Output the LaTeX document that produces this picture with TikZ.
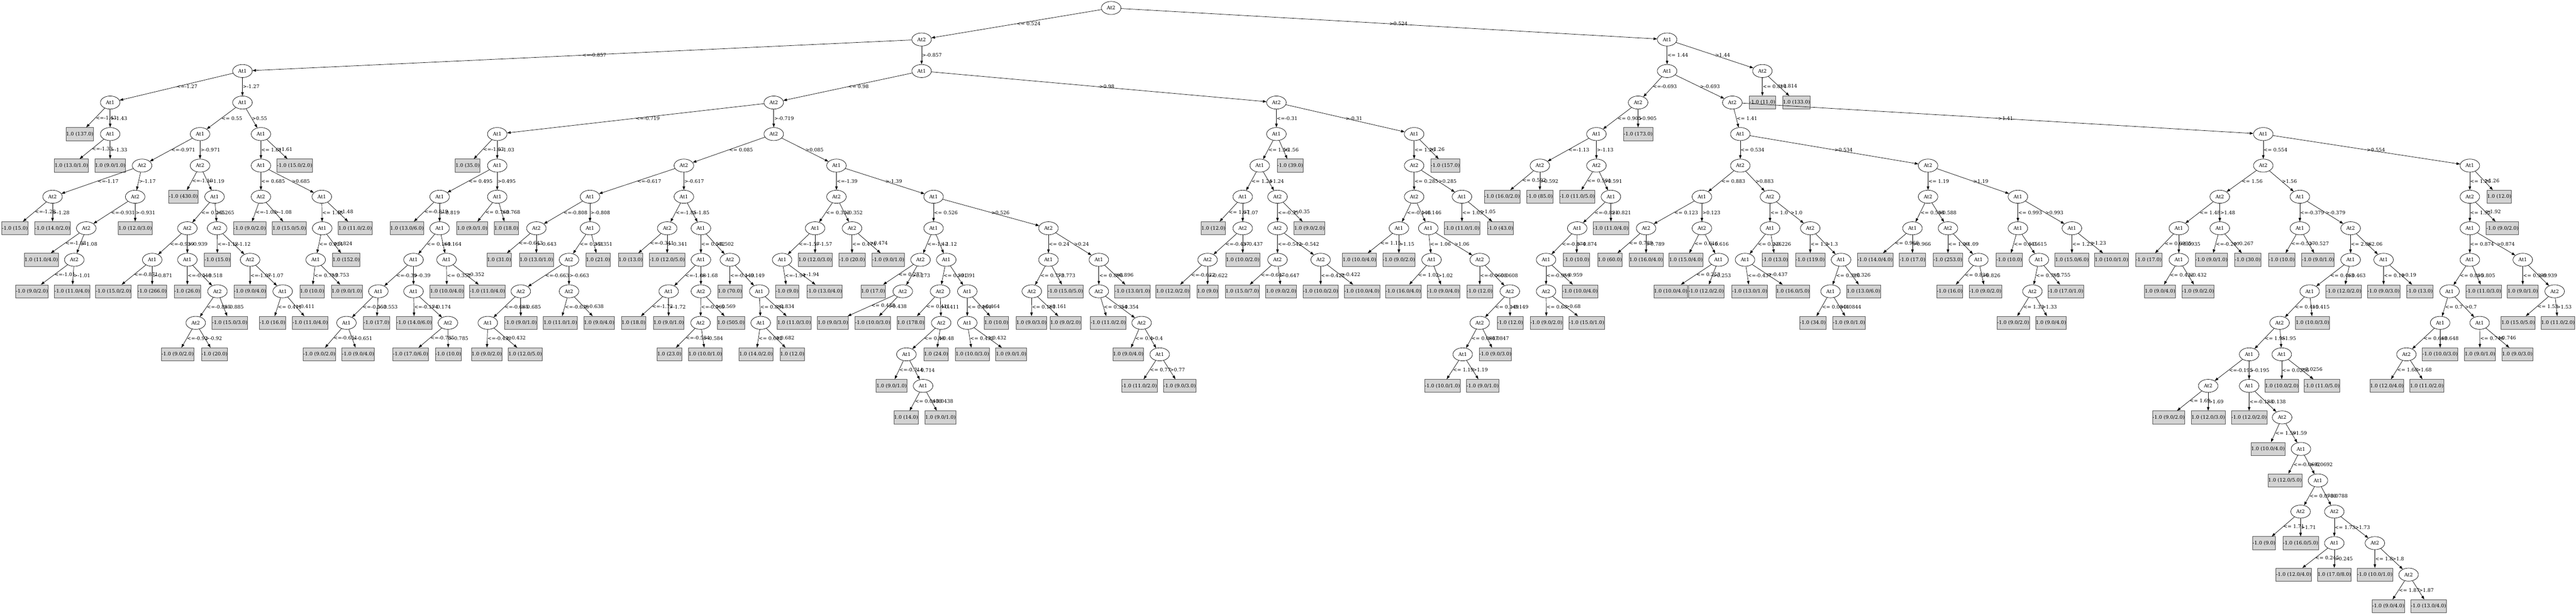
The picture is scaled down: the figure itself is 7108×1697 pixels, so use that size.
\documentclass[tikz,border=0pt]{standalone}
\usepackage{fontspec}
\setmainfont{DejaVu Serif}
\usetikzlibrary{shapes.geometric,arrows.meta}
\definecolor{leafgray}{RGB}{211,211,211}
\definecolor{leafline}{RGB}{80,80,80}

\begin{document}
\begin{tikzpicture}[x=1pt,y=-1pt,line width=1pt,font=\fontsize{13.5}{16}\selectfont]
\useasboundingbox (0,0) rectangle (7108,1697);

% split nodes
\begin{scope}[every node/.style={ellipse,draw,minimum width=54pt,minimum height=36pt,inner sep=0pt}]
\node (t0) at (3066,22) {At2};
\node (t1) at (2543,109) {At2};
\node (t2) at (4600,109) {At1};
\node (t3) at (669,196) {At1};
\node (t4) at (2543,196) {At1};
\node (t5) at (304,283) {At1};
\node (t6) at (669,283) {At1};
\node (t7) at (304,370) {At1};
\node (t8) at (552,370) {At1};
\node (t9) at (720,370) {At1};
\node (t10) at (392,457) {At2};
\node (t11) at (552,457) {At2};
\node (t12) at (145,543) {At2};
\node (t13) at (373,543) {At2};
\node (t14) at (238,630) {At2};
\node (t15) at (205,717) {At2};
\node (t16) at (592,543) {At1};
\node (t17) at (517,630) {At2};
\node (t18) at (599,630) {At2};
\node (t19) at (420,717) {At1};
\node (t20) at (517,717) {At1};
\node (t21) at (600,804) {At2};
\node (t22) at (540,891) {At2};
\node (t23) at (690,717) {At2};
\node (t24) at (780,804) {At1};
\node (t25) at (720,457) {At1};
\node (t26) at (720,543) {At2};
\node (t27) at (888,543) {At1};
\node (t28) at (889,630) {At1};
\node (t29) at (871,717) {At1};
\node (t30) at (2135,283) {At2};
\node (t31) at (3522,283) {At2};
\node (t32) at (1372,370) {At1};
\node (t33) at (2135,370) {At2};
\node (t34) at (1372,457) {At1};
\node (t35) at (1213,543) {At1};
\node (t36) at (1372,543) {At1};
\node (t37) at (1213,630) {At1};
\node (t38) at (1141,717) {At1};
\node (t39) at (1232,717) {At1};
\node (t40) at (1044,804) {At1};
\node (t41) at (1141,804) {At1};
\node (t42) at (956,891) {At1};
\node (t43) at (1236,891) {At2};
\node (t44) at (1887,457) {At2};
\node (t45) at (2308,457) {At1};
\node (t46) at (1628,543) {At1};
\node (t47) at (1887,543) {At1};
\node (t48) at (1480,630) {At2};
\node (t49) at (1628,630) {At1};
\node (t50) at (1570,717) {At2};
\node (t51) at (1437,804) {At2};
\node (t52) at (1570,804) {At2};
\node (t53) at (1346,891) {At1};
\node (t54) at (1841,630) {At2};
\node (t55) at (1934,630) {At1};
\node (t56) at (1934,717) {At1};
\node (t57) at (2014,717) {At2};
\node (t58) at (1845,804) {At1};
\node (t59) at (1934,804) {At2};
\node (t60) at (1933,891) {At2};
\node (t61) at (2095,804) {At1};
\node (t62) at (2099,891) {At1};
\node (t63) at (2308,543) {At2};
\node (t64) at (2576,543) {At1};
\node (t65) at (2249,630) {At1};
\node (t66) at (2351,630) {At2};
\node (t67) at (2158,717) {At1};
\node (t68) at (2576,630) {At1};
\node (t69) at (2893,630) {At2};
\node (t70) at (2540,717) {At2};
\node (t71) at (2611,717) {At1};
\node (t72) at (2491,804) {At2};
\node (t73) at (2594,804) {At2};
\node (t74) at (2669,804) {At1};
\node (t75) at (2597,891) {At2};
\node (t76) at (2501,978) {At1};
\node (t77) at (2547,1065) {At1};
\node (t78) at (2669,891) {At1};
\node (t79) at (2893,717) {At1};
\node (t80) at (3032,717) {At1};
\node (t81) at (2847,804) {At2};
\node (t82) at (3032,804) {At2};
\node (t83) at (3150,891) {At2};
\node (t84) at (3200,978) {At1};
\node (t85) at (3522,370) {At1};
\node (t86) at (3902,370) {At1};
\node (t87) at (3476,457) {At1};
\node (t88) at (3429,543) {At1};
\node (t89) at (3525,543) {At2};
\node (t90) at (3429,630) {At2};
\node (t91) at (3332,717) {At2};
\node (t92) at (3525,630) {At2};
\node (t93) at (3525,717) {At2};
\node (t94) at (3644,717) {At2};
\node (t95) at (3902,457) {At2};
\node (t96) at (3902,543) {At2};
\node (t97) at (4034,543) {At1};
\node (t98) at (3860,630) {At1};
\node (t99) at (3941,630) {At1};
\node (t100) at (3950,717) {At1};
\node (t101) at (4083,717) {At2};
\node (t102) at (4166,804) {At2};
\node (t103) at (4083,891) {At2};
\node (t104) at (4036,978) {At1};
\node (t105) at (4600,196) {At1};
\node (t106) at (4863,196) {At2};
\node (t107) at (4520,283) {At2};
\node (t108) at (4780,283) {At2};
\node (t109) at (4405,370) {At1};
\node (t110) at (4249,457) {At2};
\node (t111) at (4405,457) {At2};
\node (t112) at (4445,543) {At1};
\node (t113) at (4352,630) {At1};
\node (t114) at (4266,717) {At1};
\node (t115) at (4266,804) {At2};
\node (t116) at (4802,370) {At1};
\node (t117) at (6245,370) {At1};
\node (t118) at (4802,457) {At2};
\node (t119) at (5320,457) {At2};
\node (t120) at (4696,543) {At1};
\node (t121) at (4884,543) {At2};
\node (t122) at (4542,630) {At2};
\node (t123) at (4696,630) {At2};
\node (t124) at (4742,717) {At1};
\node (t125) at (4884,630) {At1};
\node (t126) at (4995,630) {At2};
\node (t127) at (4815,717) {At1};
\node (t128) at (5080,717) {At1};
\node (t129) at (5051,804) {At1};
\node (t130) at (5320,543) {At2};
\node (t131) at (5568,543) {At1};
\node (t132) at (5277,630) {At1};
\node (t133) at (5375,630) {At2};
\node (t134) at (5459,717) {At1};
\node (t135) at (5568,630) {At1};
\node (t136) at (5717,630) {At1};
\node (t137) at (5626,717) {At1};
\node (t138) at (5608,804) {At2};
\node (t139) at (6245,457) {At2};
\node (t140) at (6815,457) {At1};
\node (t141) at (6125,543) {At2};
\node (t142) at (6346,543) {At1};
\node (t143) at (6012,630) {At1};
\node (t144) at (6125,630) {At1};
\node (t145) at (6012,717) {At1};
\node (t146) at (6346,630) {At1};
\node (t147) at (6486,630) {At2};
\node (t148) at (6486,717) {At1};
\node (t149) at (6577,717) {At1};
\node (t150) at (6373,804) {At1};
\node (t151) at (6290,891) {At2};
\node (t152) at (6206,978) {At1};
\node (t153) at (6296,978) {At1};
\node (t154) at (6093,1065) {At2};
\node (t155) at (6206,1065) {At1};
\node (t156) at (6297,1152) {At2};
\node (t157) at (6349,1239) {At1};
\node (t158) at (6396,1326) {At1};
\node (t159) at (6348,1412) {At2};
\node (t160) at (6441,1412) {At2};
\node (t161) at (6441,1499) {At1};
\node (t162) at (6553,1499) {At2};
\node (t163) at (6646,1586) {At2};
\node (t164) at (6815,543) {At2};
\node (t165) at (6815,630) {At1};
\node (t166) at (6815,717) {At1};
\node (t167) at (6961,717) {At1};
\node (t168) at (6759,804) {At1};
\node (t169) at (6733,891) {At1};
\node (t170) at (6842,891) {At1};
\node (t171) at (6640,978) {At2};
\node (t172) at (7049,804) {At2};
\end{scope}

% leaves
\begin{scope}[every node/.style={rectangle,draw=leafline,fill=leafgray,minimum height=36pt,inner xsep=0.5pt}]
\node (l1) at (220,370) {1.0 (137.0)};
\node (l2) at (197,457) {1.0 (13.0/1.0)};
\node (l3) at (304,457) {1.0 (9.0/1.0)};
\node (l4) at (41,630) {-1.0 (15.0)};
\node (l5) at (145,630) {-1.0 (14.0/2.0)};
\node (l6) at (373,630) {1.0 (12.0/3.0)};
\node (l7) at (114,717) {1.0 (11.0/4.0)};
\node (l8) at (88,804) {-1.0 (9.0/2.0)};
\node (l9) at (199,804) {-1.0 (11.0/4.0)};
\node (l10) at (506,543) {-1.0 (430.0)};
\node (l11) at (313,804) {-1.0 (15.0/2.0)};
\node (l12) at (420,804) {-1.0 (266.0)};
\node (l13) at (517,804) {-1.0 (26.0)};
\node (l14) at (634,891) {-1.0 (15.0/3.0)};
\node (l15) at (490,978) {-1.0 (9.0/2.0)};
\node (l16) at (592,978) {-1.0 (20.0)};
\node (l17) at (600,717) {-1.0 (15.0)};
\node (l18) at (690,804) {-1.0 (9.0/4.0)};
\node (l19) at (752,891) {-1.0 (16.0)};
\node (l20) at (856,891) {-1.0 (11.0/4.0)};
\node (l21) at (813,457) {-1.0 (15.0/2.0)};
\node (l22) at (689,630) {-1.0 (9.0/2.0)};
\node (l23) at (798,630) {1.0 (15.0/5.0)};
\node (l24) at (980,630) {1.0 (11.0/2.0)};
\node (l25) at (955,717) {1.0 (152.0)};
\node (l26) at (861,804) {1.0 (10.0)};
\node (l27) at (957,804) {1.0 (9.0/1.0)};
\node (l28) at (1290,457) {1.0 (35.0)};
\node (l29) at (1123,630) {1.0 (13.0/6.0)};
\node (l30) at (1039,891) {-1.0 (17.0)};
\node (l31) at (881,978) {-1.0 (9.0/2.0)};
\node (l32) at (988,978) {-1.0 (9.0/4.0)};
\node (l33) at (1143,891) {-1.0 (14.0/6.0)};
\node (l34) at (1133,978) {-1.0 (17.0/6.0)};
\node (l35) at (1237,978) {-1.0 (10.0)};
\node (l36) at (1233,804) {1.0 (10.0/4.0)};
\node (l37) at (1345,804) {-1.0 (11.0/4.0)};
\node (l38) at (1303,630) {1.0 (9.0/1.0)};
\node (l39) at (1397,630) {1.0 (18.0)};
\node (l40) at (1377,717) {1.0 (31.0)};
\node (l41) at (1480,717) {1.0 (13.0/1.0)};
\node (l42) at (1437,891) {-1.0 (9.0/1.0)};
\node (l43) at (1343,978) {1.0 (9.0/2.0)};
\node (l44) at (1449,978) {1.0 (12.0/5.0)};
\node (l45) at (1546,891) {1.0 (11.0/1.0)};
\node (l46) at (1653,891) {1.0 (9.0/4.0)};
\node (l47) at (1650,717) {1.0 (21.0)};
\node (l48) at (1740,717) {1.0 (13.0)};
\node (l49) at (1841,717) {-1.0 (12.0/5.0)};
\node (l50) at (1748,891) {1.0 (18.0)};
\node (l51) at (1845,891) {1.0 (9.0/1.0)};
\node (l52) at (1847,978) {1.0 (23.0)};
\node (l53) at (1946,978) {1.0 (10.0/1.0)};
\node (l54) at (2017,891) {1.0 (505.0)};
\node (l55) at (2014,804) {1.0 (70.0)};
\node (l56) at (2086,978) {1.0 (14.0/2.0)};
\node (l57) at (2186,978) {1.0 (12.0)};
\node (l58) at (2191,891) {1.0 (11.0/3.0)};
\node (l59) at (2249,717) {1.0 (12.0/3.0)};
\node (l60) at (2172,804) {-1.0 (9.0)};
\node (l61) at (2275,804) {-1.0 (13.0/4.0)};
\node (l62) at (2351,717) {-1.0 (20.0)};
\node (l63) at (2451,717) {-1.0 (9.0/1.0)};
\node (l64) at (2409,804) {1.0 (17.0)};
\node (l65) at (2298,891) {1.0 (9.0/3.0)};
\node (l66) at (2408,891) {-1.0 (10.0/3.0)};
\node (l67) at (2513,891) {1.0 (178.0)};
\node (l68) at (2583,978) {1.0 (24.0)};
\node (l69) at (2460,1065) {1.0 (9.0/1.0)};
\node (l70) at (2500,1152) {1.0 (14.0)};
\node (l71) at (2595,1152) {1.0 (9.0/1.0)};
\node (l72) at (2749,891) {1.0 (10.0)};
\node (l73) at (2683,978) {1.0 (10.0/3.0)};
\node (l74) at (2790,978) {1.0 (9.0/1.0)};
\node (l75) at (2940,804) {-1.0 (15.0/5.0)};
\node (l76) at (2846,891) {1.0 (9.0/3.0)};
\node (l77) at (2940,891) {1.0 (9.0/2.0)};
\node (l78) at (3125,804) {-1.0 (13.0/1.0)};
\node (l79) at (3058,891) {-1.0 (11.0/2.0)};
\node (l80) at (3113,978) {1.0 (9.0/4.0)};
\node (l81) at (3144,1065) {-1.0 (11.0/2.0)};
\node (l82) at (3255,1065) {-1.0 (9.0/3.0)};
\node (l83) at (3560,457) {-1.0 (39.0)};
\node (l84) at (3348,630) {1.0 (12.0)};
\node (l85) at (3429,717) {1.0 (10.0/2.0)};
\node (l86) at (3236,804) {1.0 (12.0/2.0)};
\node (l87) at (3332,804) {1.0 (9.0)};
\node (l88) at (3613,630) {1.0 (9.0/2.0)};
\node (l89) at (3428,804) {1.0 (15.0/7.0)};
\node (l90) at (3535,804) {1.0 (9.0/2.0)};
\node (l91) at (3644,804) {-1.0 (10.0/2.0)};
\node (l92) at (3758,804) {-1.0 (10.0/4.0)};
\node (l93) at (3988,457) {-1.0 (157.0)};
\node (l94) at (3751,717) {1.0 (10.0/4.0)};
\node (l95) at (3860,717) {-1.0 (9.0/2.0)};
\node (l96) at (3872,804) {-1.0 (16.0/4.0)};
\node (l97) at (3983,804) {-1.0 (9.0/4.0)};
\node (l98) at (4083,804) {-1.0 (12.0)};
\node (l99) at (4167,891) {-1.0 (12.0)};
\node (l100) at (4126,978) {-1.0 (9.0/3.0)};
\node (l101) at (3980,1065) {-1.0 (10.0/1.0)};
\node (l102) at (4091,1065) {-1.0 (9.0/1.0)};
\node (l103) at (4034,630) {-1.0 (11.0/1.0)};
\node (l104) at (4140,630) {-1.0 (43.0)};
\node (l105) at (4863,283) {-1.0 (11.0)};
\node (l106) at (4957,283) {1.0 (133.0)};
\node (l107) at (4520,370) {-1.0 (173.0)};
\node (l108) at (4145,543) {-1.0 (16.0/2.0)};
\node (l109) at (4249,543) {-1.0 (85.0)};
\node (l110) at (4352,543) {-1.0 (11.0/5.0)};
\node (l111) at (4445,630) {-1.0 (11.0/4.0)};
\node (l112) at (4350,717) {-1.0 (10.0)};
\node (l113) at (4360,804) {-1.0 (10.0/4.0)};
\node (l114) at (4267,891) {-1.0 (9.0/2.0)};
\node (l115) at (4378,891) {-1.0 (15.0/1.0)};
\node (l116) at (4442,717) {1.0 (60.0)};
\node (l117) at (4542,717) {1.0 (16.0/4.0)};
\node (l118) at (4652,717) {1.0 (15.0/4.0)};
\node (l119) at (4610,804) {1.0 (10.0/4.0)};
\node (l120) at (4708,804) {-1.0 (12.0/2.0)};
\node (l121) at (4898,717) {-1.0 (13.0)};
\node (l122) at (4828,804) {-1.0 (13.0/1.0)};
\node (l123) at (4947,804) {1.0 (16.0/5.0)};
\node (l124) at (4995,717) {-1.0 (119.0)};
\node (l125) at (5142,804) {1.0 (13.0/6.0)};
\node (l126) at (5002,891) {-1.0 (34.0)};
\node (l127) at (5102,891) {-1.0 (9.0/1.0)};
\node (l128) at (5174,717) {-1.0 (14.0/4.0)};
\node (l129) at (5277,717) {-1.0 (17.0)};
\node (l130) at (5375,717) {-1.0 (253.0)};
\node (l131) at (5380,804) {-1.0 (16.0)};
\node (l132) at (5478,804) {-1.0 (9.0/2.0)};
\node (l133) at (5544,717) {-1.0 (10.0)};
\node (l134) at (5700,804) {-1.0 (17.0/1.0)};
\node (l135) at (5555,891) {-1.0 (9.0/2.0)};
\node (l136) at (5659,891) {1.0 (9.0/4.0)};
\node (l137) at (5717,717) {1.0 (15.0/6.0)};
\node (l138) at (5826,717) {1.0 (10.0/1.0)};
\node (l139) at (5929,717) {-1.0 (17.0)};
\node (l140) at (5960,804) {1.0 (9.0/4.0)};
\node (l141) at (6065,804) {-1.0 (9.0/2.0)};
\node (l142) at (6102,717) {-1.0 (9.0/1.0)};
\node (l143) at (6202,717) {-1.0 (30.0)};
\node (l144) at (6296,717) {-1.0 (10.0)};
\node (l145) at (6396,717) {-1.0 (9.0/1.0)};
\node (l146) at (6467,804) {-1.0 (12.0/2.0)};
\node (l147) at (6577,804) {-1.0 (9.0/3.0)};
\node (l148) at (6677,804) {-1.0 (13.0)};
\node (l149) at (6381,891) {1.0 (10.0/3.0)};
\node (l150) at (5984,1152) {-1.0 (9.0/2.0)};
\node (l151) at (6093,1152) {1.0 (12.0/3.0)};
\node (l152) at (6206,1152) {-1.0 (12.0/2.0)};
\node (l153) at (6258,1239) {1.0 (10.0/4.0)};
\node (l154) at (6305,1326) {1.0 (12.0/5.0)};
\node (l155) at (6247,1499) {-1.0 (9.0)};
\node (l156) at (6348,1499) {-1.0 (16.0/5.0)};
\node (l157) at (6329,1586) {-1.0 (12.0/4.0)};
\node (l158) at (6441,1586) {1.0 (17.0/8.0)};
\node (l159) at (6553,1586) {-1.0 (10.0/1.0)};
\node (l160) at (6590,1673) {-1.0 (9.0/4.0)};
\node (l161) at (6701,1673) {-1.0 (13.0/4.0)};
\node (l162) at (6296,1065) {1.0 (10.0/2.0)};
\node (l163) at (6407,1065) {-1.0 (11.0/5.0)};
\node (l164) at (6896,543) {1.0 (12.0)};
\node (l165) at (6905,630) {-1.0 (9.0/2.0)};
\node (l166) at (6853,804) {-1.0 (11.0/3.0)};
\node (l167) at (6586,1065) {1.0 (12.0/4.0)};
\node (l168) at (6696,1065) {1.0 (11.0/2.0)};
\node (l169) at (6733,978) {-1.0 (10.0/3.0)};
\node (l170) at (6843,978) {1.0 (9.0/1.0)};
\node (l171) at (6946,978) {1.0 (9.0/3.0)};
\node (l172) at (6961,804) {1.0 (9.0/1.0)};
\node (l173) at (6948,891) {1.0 (15.0/5.0)};
\node (l174) at (7058,891) {1.0 (11.0/2.0)};
\end{scope}

% branches
\begin{scope}[every edge/.style={draw,-{Triangle[length=10pt,width=7pt]}},every node/.style={anchor=west,inner sep=0.5pt}]
\path (t0) edge node {<= 0.524} (t1);
\path (t0) edge node {>0.524} (t2);
\path (t1) edge node {<=-0.857} (t3);
\path (t1) edge node {>-0.857} (t4);
\path (t3) edge node {<=-1.27} (t5);
\path (t3) edge node {>-1.27} (t6);
\path (t5) edge node {<=-1.43} (l1);
\path (t5) edge node {>-1.43} (t7);
\path (t7) edge node {<=-1.33} (l2);
\path (t7) edge node {>-1.33} (l3);
\path (t6) edge node {<= 0.55} (t8);
\path (t6) edge node {>0.55} (t9);
\path (t8) edge node {<=-0.971} (t10);
\path (t8) edge node {>-0.971} (t11);
\path (t10) edge node {<=-1.17} (t12);
\path (t10) edge node {>-1.17} (t13);
\path (t12) edge node {<=-1.28} (l4);
\path (t12) edge node {>-1.28} (l5);
\path (t13) edge node {<=-0.931} (t14);
\path (t13) edge node {>-0.931} (l6);
\path (t14) edge node {<=-1.08} (l7);
\path (t14) edge node {>-1.08} (t15);
\path (t15) edge node {<=-1.01} (l8);
\path (t15) edge node {>-1.01} (l9);
\path (t11) edge node {<=-1.19} (l10);
\path (t11) edge node {>-1.19} (t16);
\path (t16) edge node {<= 0.265} (t17);
\path (t16) edge node {>0.265} (t18);
\path (t17) edge node {<=-0.939} (t19);
\path (t17) edge node {>-0.939} (t20);
\path (t19) edge node {<=-0.871} (l11);
\path (t19) edge node {>-0.871} (l12);
\path (t20) edge node {<=-0.518} (l13);
\path (t20) edge node {>-0.518} (t21);
\path (t21) edge node {<=-0.885} (t22);
\path (t21) edge node {>-0.885} (l14);
\path (t22) edge node {<=-0.92} (l15);
\path (t22) edge node {>-0.92} (l16);
\path (t18) edge node {<=-1.12} (l17);
\path (t18) edge node {>-1.12} (t23);
\path (t23) edge node {<=-1.07} (l18);
\path (t23) edge node {>-1.07} (t24);
\path (t24) edge node {<= 0.411} (l19);
\path (t24) edge node {>0.411} (l20);
\path (t9) edge node {<= 1.61} (t25);
\path (t9) edge node {>1.61} (l21);
\path (t25) edge node {<= 0.685} (t26);
\path (t25) edge node {>0.685} (t27);
\path (t26) edge node {<=-1.08} (l22);
\path (t26) edge node {>-1.08} (l23);
\path (t27) edge node {<= 1.48} (t28);
\path (t27) edge node {>1.48} (l24);
\path (t28) edge node {<= 0.824} (t29);
\path (t28) edge node {>0.824} (l25);
\path (t29) edge node {<= 0.753} (l26);
\path (t29) edge node {>0.753} (l27);
\path (t4) edge node {<= 0.98} (t30);
\path (t4) edge node {>0.98} (t31);
\path (t30) edge node {<=-0.719} (t32);
\path (t30) edge node {>-0.719} (t33);
\path (t32) edge node {<=-1.03} (l28);
\path (t32) edge node {>-1.03} (t34);
\path (t34) edge node {<= 0.495} (t35);
\path (t34) edge node {>0.495} (t36);
\path (t35) edge node {<=-0.819} (l29);
\path (t35) edge node {>-0.819} (t37);
\path (t37) edge node {<= 0.164} (t38);
\path (t37) edge node {>0.164} (t39);
\path (t38) edge node {<=-0.39} (t40);
\path (t38) edge node {>-0.39} (t41);
\path (t40) edge node {<=-0.553} (t42);
\path (t40) edge node {>-0.553} (l30);
\path (t42) edge node {<=-0.651} (l31);
\path (t42) edge node {>-0.651} (l32);
\path (t41) edge node {<=-0.174} (l33);
\path (t41) edge node {>-0.174} (t43);
\path (t43) edge node {<=-0.785} (l34);
\path (t43) edge node {>-0.785} (l35);
\path (t39) edge node {<= 0.352} (l36);
\path (t39) edge node {>0.352} (l37);
\path (t36) edge node {<= 0.768} (l38);
\path (t36) edge node {>0.768} (l39);
\path (t33) edge node {<= 0.085} (t44);
\path (t33) edge node {>0.085} (t45);
\path (t44) edge node {<=-0.617} (t46);
\path (t44) edge node {>-0.617} (t47);
\path (t46) edge node {<=-0.808} (t48);
\path (t46) edge node {>-0.808} (t49);
\path (t48) edge node {<=-0.643} (l40);
\path (t48) edge node {>-0.643} (l41);
\path (t49) edge node {<= 0.351} (t50);
\path (t49) edge node {>0.351} (l47);
\path (t50) edge node {<=-0.663} (t51);
\path (t50) edge node {>-0.663} (t52);
\path (t51) edge node {<=-0.685} (t53);
\path (t51) edge node {>-0.685} (l42);
\path (t53) edge node {<=-0.432} (l43);
\path (t53) edge node {>-0.432} (l44);
\path (t52) edge node {<=-0.638} (l45);
\path (t52) edge node {>-0.638} (l46);
\path (t47) edge node {<=-1.85} (t54);
\path (t47) edge node {>-1.85} (t55);
\path (t54) edge node {<=-0.341} (l48);
\path (t54) edge node {>-0.341} (l49);
\path (t55) edge node {<= 0.502} (t56);
\path (t55) edge node {>0.502} (t57);
\path (t56) edge node {<=-1.68} (t58);
\path (t56) edge node {>-1.68} (t59);
\path (t58) edge node {<=-1.72} (l50);
\path (t58) edge node {>-1.72} (l51);
\path (t59) edge node {<=-0.569} (t60);
\path (t59) edge node {>-0.569} (l54);
\path (t60) edge node {<=-0.584} (l52);
\path (t60) edge node {>-0.584} (l53);
\path (t57) edge node {<=-0.149} (l55);
\path (t57) edge node {>-0.149} (t61);
\path (t61) edge node {<= 0.834} (t62);
\path (t61) edge node {>0.834} (l58);
\path (t62) edge node {<= 0.682} (l56);
\path (t62) edge node {>0.682} (l57);
\path (t45) edge node {<=-1.39} (t63);
\path (t45) edge node {>-1.39} (t64);
\path (t63) edge node {<= 0.352} (t65);
\path (t63) edge node {>0.352} (t66);
\path (t65) edge node {<=-1.57} (t67);
\path (t65) edge node {>-1.57} (l59);
\path (t67) edge node {<=-1.94} (l60);
\path (t67) edge node {>-1.94} (l61);
\path (t66) edge node {<= 0.474} (l62);
\path (t66) edge node {>0.474} (l63);
\path (t64) edge node {<= 0.526} (t68);
\path (t64) edge node {>0.526} (t69);
\path (t68) edge node {<=-1.12} (t70);
\path (t68) edge node {>-1.12} (t71);
\path (t70) edge node {<= 0.273} (l64);
\path (t70) edge node {>0.273} (t72);
\path (t72) edge node {<= 0.438} (l65);
\path (t72) edge node {>0.438} (l66);
\path (t71) edge node {<= 0.391} (t73);
\path (t71) edge node {>0.391} (t74);
\path (t73) edge node {<= 0.411} (l67);
\path (t73) edge node {>0.411} (t75);
\path (t75) edge node {<= 0.48} (t76);
\path (t75) edge node {>0.48} (l68);
\path (t76) edge node {<=-0.714} (l69);
\path (t76) edge node {>-0.714} (t77);
\path (t77) edge node {<= 0.0438} (l70);
\path (t77) edge node {>0.0438} (l71);
\path (t74) edge node {<= 0.464} (t78);
\path (t74) edge node {>0.464} (l72);
\path (t78) edge node {<= 0.432} (l73);
\path (t78) edge node {>0.432} (l74);
\path (t69) edge node {<= 0.24} (t79);
\path (t69) edge node {>0.24} (t80);
\path (t79) edge node {<= 0.773} (t81);
\path (t79) edge node {>0.773} (l75);
\path (t81) edge node {<= 0.161} (l76);
\path (t81) edge node {>0.161} (l77);
\path (t80) edge node {<= 0.896} (t82);
\path (t80) edge node {>0.896} (l78);
\path (t82) edge node {<= 0.354} (l79);
\path (t82) edge node {>0.354} (t83);
\path (t83) edge node {<= 0.4} (l80);
\path (t83) edge node {>0.4} (t84);
\path (t84) edge node {<= 0.77} (l81);
\path (t84) edge node {>0.77} (l82);
\path (t31) edge node {<=-0.31} (t85);
\path (t31) edge node {>-0.31} (t86);
\path (t85) edge node {<= 1.56} (t87);
\path (t85) edge node {>1.56} (l83);
\path (t87) edge node {<= 1.24} (t88);
\path (t87) edge node {>1.24} (t89);
\path (t88) edge node {<= 1.07} (l84);
\path (t88) edge node {>1.07} (t90);
\path (t90) edge node {<=-0.437} (t91);
\path (t90) edge node {>-0.437} (l85);
\path (t91) edge node {<=-0.622} (l86);
\path (t91) edge node {>-0.622} (l87);
\path (t89) edge node {<=-0.35} (t92);
\path (t89) edge node {>-0.35} (l88);
\path (t92) edge node {<=-0.542} (t93);
\path (t92) edge node {>-0.542} (t94);
\path (t93) edge node {<=-0.647} (l89);
\path (t93) edge node {>-0.647} (l90);
\path (t94) edge node {<=-0.422} (l91);
\path (t94) edge node {>-0.422} (l92);
\path (t86) edge node {<= 1.26} (t95);
\path (t86) edge node {>1.26} (l93);
\path (t95) edge node {<= 0.285} (t96);
\path (t95) edge node {>0.285} (t97);
\path (t96) edge node {<=-0.146} (t98);
\path (t96) edge node {>-0.146} (t99);
\path (t98) edge node {<= 1.15} (l94);
\path (t98) edge node {>1.15} (l95);
\path (t99) edge node {<= 1.06} (t100);
\path (t99) edge node {>1.06} (t101);
\path (t100) edge node {<= 1.02} (l96);
\path (t100) edge node {>1.02} (l97);
\path (t101) edge node {<=-0.0608} (l98);
\path (t101) edge node {>-0.0608} (t102);
\path (t102) edge node {<= 0.149} (t103);
\path (t102) edge node {>0.149} (l99);
\path (t103) edge node {<= 0.0847} (t104);
\path (t103) edge node {>0.0847} (l100);
\path (t104) edge node {<= 1.19} (l101);
\path (t104) edge node {>1.19} (l102);
\path (t97) edge node {<= 1.05} (l103);
\path (t97) edge node {>1.05} (l104);
\path (t2) edge node {<= 1.44} (t105);
\path (t2) edge node {>1.44} (t106);
\path (t106) edge node {<= 0.814} (l105);
\path (t106) edge node {>0.814} (l106);
\path (t105) edge node {<=-0.693} (t107);
\path (t105) edge node {>-0.693} (t108);
\path (t107) edge node {<= 0.905} (t109);
\path (t107) edge node {>0.905} (l107);
\path (t109) edge node {<=-1.13} (t110);
\path (t109) edge node {>-1.13} (t111);
\path (t110) edge node {<= 0.592} (l108);
\path (t110) edge node {>0.592} (l109);
\path (t111) edge node {<= 0.591} (l110);
\path (t111) edge node {>0.591} (t112);
\path (t112) edge node {<=-0.821} (t113);
\path (t112) edge node {>-0.821} (l111);
\path (t113) edge node {<=-0.874} (t114);
\path (t113) edge node {>-0.874} (l112);
\path (t114) edge node {<=-0.959} (t115);
\path (t114) edge node {>-0.959} (l113);
\path (t115) edge node {<= 0.68} (l114);
\path (t115) edge node {>0.68} (l115);
\path (t108) edge node {<= 1.41} (t116);
\path (t108) edge node {>1.41} (t117);
\path (t116) edge node {<= 0.534} (t118);
\path (t116) edge node {>0.534} (t119);
\path (t118) edge node {<= 0.883} (t120);
\path (t118) edge node {>0.883} (t121);
\path (t120) edge node {<= 0.123} (t122);
\path (t120) edge node {>0.123} (t123);
\path (t122) edge node {<= 0.789} (l116);
\path (t122) edge node {>0.789} (l117);
\path (t123) edge node {<= 0.616} (l118);
\path (t123) edge node {>0.616} (t124);
\path (t124) edge node {<= 0.253} (l119);
\path (t124) edge node {>0.253} (l120);
\path (t121) edge node {<= 1.0} (t125);
\path (t121) edge node {>1.0} (t126);
\path (t125) edge node {<= 0.226} (t127);
\path (t125) edge node {>0.226} (l121);
\path (t127) edge node {<=-0.437} (l122);
\path (t127) edge node {>-0.437} (l123);
\path (t126) edge node {<= 1.3} (l124);
\path (t126) edge node {>1.3} (t128);
\path (t128) edge node {<= 0.326} (t129);
\path (t128) edge node {>0.326} (l125);
\path (t129) edge node {<= 0.0844} (l126);
\path (t129) edge node {>0.0844} (l127);
\path (t119) edge node {<= 1.19} (t130);
\path (t119) edge node {>1.19} (t131);
\path (t130) edge node {<= 0.588} (t132);
\path (t130) edge node {>0.588} (t133);
\path (t132) edge node {<= 0.966} (l128);
\path (t132) edge node {>0.966} (l129);
\path (t133) edge node {<= 1.09} (l130);
\path (t133) edge node {>1.09} (t134);
\path (t134) edge node {<= 0.826} (l131);
\path (t134) edge node {>0.826} (l132);
\path (t131) edge node {<= 0.993} (t135);
\path (t131) edge node {>0.993} (t136);
\path (t135) edge node {<= 0.615} (l133);
\path (t135) edge node {>0.615} (t137);
\path (t137) edge node {<= 0.755} (t138);
\path (t137) edge node {>0.755} (l134);
\path (t138) edge node {<= 1.33} (l135);
\path (t138) edge node {>1.33} (l136);
\path (t136) edge node {<= 1.23} (l137);
\path (t136) edge node {>1.23} (l138);
\path (t117) edge node {<= 0.554} (t139);
\path (t117) edge node {>0.554} (t140);
\path (t139) edge node {<= 1.56} (t141);
\path (t139) edge node {>1.56} (t142);
\path (t141) edge node {<= 1.48} (t143);
\path (t141) edge node {>1.48} (t144);
\path (t143) edge node {<= 0.0935} (l139);
\path (t143) edge node {>0.0935} (t145);
\path (t145) edge node {<= 0.432} (l140);
\path (t145) edge node {>0.432} (l141);
\path (t144) edge node {<=-0.267} (l142);
\path (t144) edge node {>-0.267} (l143);
\path (t142) edge node {<=-0.379} (t146);
\path (t142) edge node {>-0.379} (t147);
\path (t146) edge node {<=-0.527} (l144);
\path (t146) edge node {>-0.527} (l145);
\path (t147) edge node {<= 2.06} (t148);
\path (t147) edge node {>2.06} (t149);
\path (t148) edge node {<= 0.463} (t150);
\path (t148) edge node {>0.463} (l146);
\path (t149) edge node {<= 0.19} (l147);
\path (t149) edge node {>0.19} (l148);
\path (t150) edge node {<= 0.415} (t151);
\path (t150) edge node {>0.415} (l149);
\path (t151) edge node {<= 1.95} (t152);
\path (t151) edge node {>1.95} (t153);
\path (t152) edge node {<=-0.195} (t154);
\path (t152) edge node {>-0.195} (t155);
\path (t154) edge node {<= 1.69} (l150);
\path (t154) edge node {>1.69} (l151);
\path (t155) edge node {<=-0.138} (l152);
\path (t155) edge node {>-0.138} (t156);
\path (t156) edge node {<= 1.59} (l153);
\path (t156) edge node {>1.59} (t157);
\path (t157) edge node {<=-0.0692} (l154);
\path (t157) edge node {>-0.0692} (t158);
\path (t158) edge node {<= 0.0788} (t159);
\path (t158) edge node {>0.0788} (t160);
\path (t159) edge node {<= 1.71} (l155);
\path (t159) edge node {>1.71} (l156);
\path (t160) edge node {<= 1.73} (t161);
\path (t160) edge node {>1.73} (t162);
\path (t161) edge node {<= 0.245} (l157);
\path (t161) edge node {>0.245} (l158);
\path (t162) edge node {<= 1.8} (l159);
\path (t162) edge node {>1.8} (t163);
\path (t163) edge node {<= 1.87} (l160);
\path (t163) edge node {>1.87} (l161);
\path (t153) edge node {<= 0.0256} (l162);
\path (t153) edge node {>0.0256} (l163);
\path (t140) edge node {<= 1.26} (t164);
\path (t140) edge node {>1.26} (l164);
\path (t164) edge node {<= 1.92} (t165);
\path (t164) edge node {>1.92} (l165);
\path (t165) edge node {<= 0.874} (t166);
\path (t165) edge node {>0.874} (t167);
\path (t166) edge node {<= 0.805} (t168);
\path (t166) edge node {>0.805} (l166);
\path (t168) edge node {<= 0.7} (t169);
\path (t168) edge node {>0.7} (t170);
\path (t169) edge node {<= 0.648} (t171);
\path (t169) edge node {>0.648} (l169);
\path (t171) edge node {<= 1.68} (l167);
\path (t171) edge node {>1.68} (l168);
\path (t170) edge node {<= 0.746} (l170);
\path (t170) edge node {>0.746} (l171);
\path (t167) edge node {<= 0.939} (l172);
\path (t167) edge node {>0.939} (t172);
\path (t172) edge node {<= 1.53} (l173);
\path (t172) edge node {>1.53} (l174);
\end{scope}
\end{tikzpicture}
\end{document}
